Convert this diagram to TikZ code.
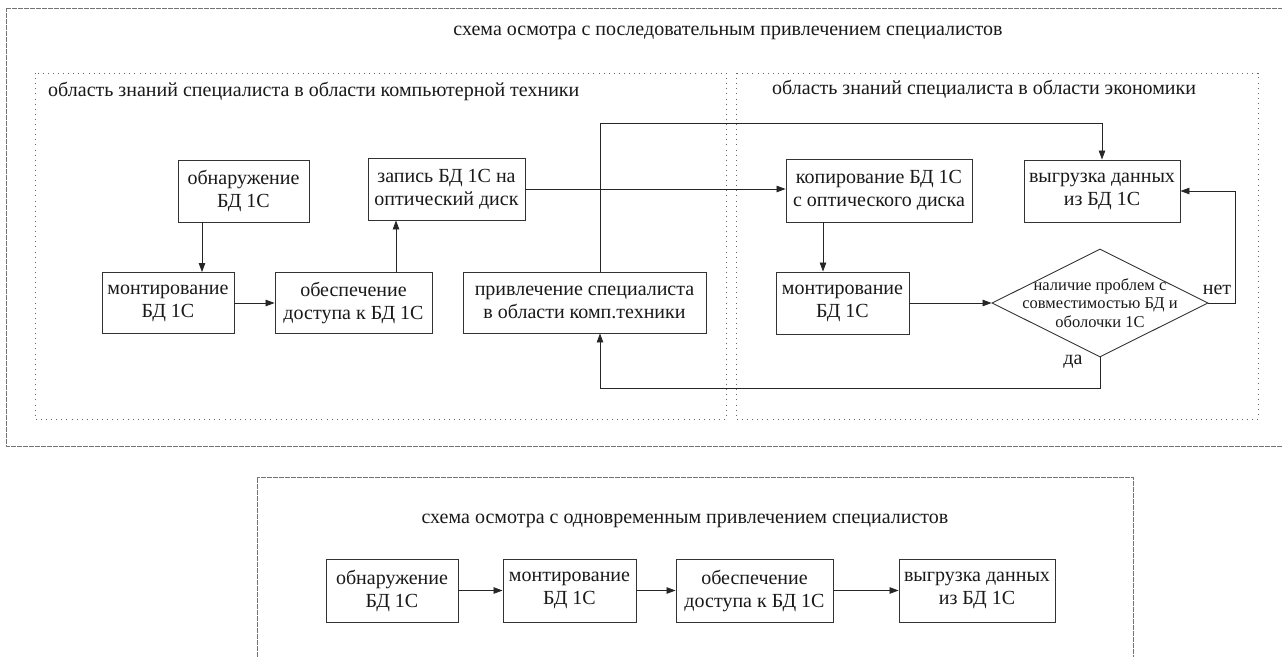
\documentclass[tikz,border=0pt]{standalone}
\usepackage{fontspec}
\setmainfont{Liberation Serif}
\usetikzlibrary{shapes.geometric, arrows.meta}
\begin{document}
\begin{tikzpicture}[x = 1pt, y = -1pt, >={Triangle[length=9pt, width=6.5pt]},
		every node/.style = {font = \fontsize{20}{23}\selectfont, text = black!90},
		blok/.style = {draw = black!80, line width = 0.9pt, align = center, inner sep = 0pt},
		romb/.style = {draw = black!80, line width = 0.9pt, diamond, inner sep = 0pt, minimum width = 216pt, minimum height = 108pt},
		oblast/.style = {black!60, line width = 0.9pt, dash pattern = on 0.9pt off 4.2pt},
		ramka/.style = {black!55, line width = 0.7pt, dash pattern = on 0.6pt off 0.6pt},
		strelka/.style = {->, line width = 0.8pt, black!85}]
				\useasboundingbox (0,0) rectangle (1282,656);
				\draw[ramka] (1283,8) -- (6,8) -- (6,446) -- (1283,446);
				\draw[oblast] (35,73) rectangle (726,419);
				\draw[oblast] (736,73) rectangle (1258,419);
				\draw[ramka] (257,657) -- (257,477) -- (1133,477) -- (1133,657);
				\node (zag1) at (728,33) {схема осмотра с последовательным привлечением специалистов};
				\node[anchor = west, inner sep = 0pt] (obl1) at (48,91) {область знаний специалиста в области компьютерной техники};
				\node[anchor = west, inner sep = 0pt] (obl2) at (772,89) {область знаний специалиста в области экономики};
				\node[blok, minimum width = 131pt, minimum height = 62pt] (A) at (243.5,191) {обнаружение\\БД 1С};
				\node[blok, minimum width = 132pt, minimum height = 61pt] (B) at (168,303) {монтирование\\БД 1С};
				\node[blok, minimum width = 157pt, minimum height = 61pt] (C) at (353.5,303) {обеспечение\\доступа к БД 1С};
				\node[blok, minimum width = 157pt, minimum height = 62pt] (D) at (446.5,189) {запись БД 1С на\\оптический диск};
				\node[blok, minimum width = 243pt, minimum height = 61pt] (E) at (584.5,302.5) {привлечение специалиста\\в области комп.техники};
				\node[blok, minimum width = 186pt, minimum height = 63pt] (F) at (879,190.5) {копирование БД 1С\\с оптического диска};
				\node[blok, minimum width = 156pt, minimum height = 62pt] (G) at (1102,191) {выгрузка данных\\из БД 1С};
				\node[blok, minimum width = 133pt, minimum height = 62pt] (H) at (842.5,303) {монтирование\\БД 1С};
				\node[romb] (Q) at (1100,303) {};
				\node[font = \fontsize{16.5}{18.5}\selectfont, align = center] (Qt) at (Q) {наличие проблем с\\совместимостью БД и\\оболочки 1С};
				\node (net) at (1217,290) {нет};
				\node (da) at (1073,362) {да};
				\coordinate (verh) at (600,123);
				\draw[strelka] ([xshift = -41.5pt]A.south) -- ([xshift = -41.5pt]A.south |- B.north);
				\draw[strelka] (B.east) -- (C.west);
				\draw[strelka] ([xshift = 42.5pt]C.north) -- ([xshift = 42.5pt]C.north |- D.south);
				\draw[strelka] (D.east) -- (D.east -| F.west);
				\draw[strelka] (E.north -| verh) -- (verh) -| (G.north);
				\draw[strelka] ([xshift = -19.5pt]H.north |- F.south) -- ([xshift = -19.5pt]H.north);
				\draw[strelka] (H.east) -- (Q.west);
				\draw[strelka] (Q.east) -- ++(27,0) |- (G.east);
				\draw[strelka] (Q.south) -- ++(0,31) -| (E.south -| verh);
				\node (zag2) at (685,521) {схема осмотра с одновременным привлечением специалистов};
				\node[blok, minimum width = 132pt, minimum height = 63pt] (A2) at (392,590.5) {обнаружение\\БД 1С};
				\node[blok, minimum width = 133pt, minimum height = 63pt] (B2) at (569.5,590.5) {монтирование\\БД 1С};
				\node[blok, minimum width = 157pt, minimum height = 63pt] (C2) at (754.5,590.5) {обеспечение\\доступа к БД 1С};
				\node[blok, minimum width = 156pt, minimum height = 63pt] (D2) at (977,590.5) {выгрузка данных\\из БД 1С};
				\draw[strelka] (A2.east) -- (B2.west);
				\draw[strelka] (B2.east) -- (C2.west);
				\draw[strelka] (C2.east) -- (D2.west);
			\end{tikzpicture}
\end{document}
